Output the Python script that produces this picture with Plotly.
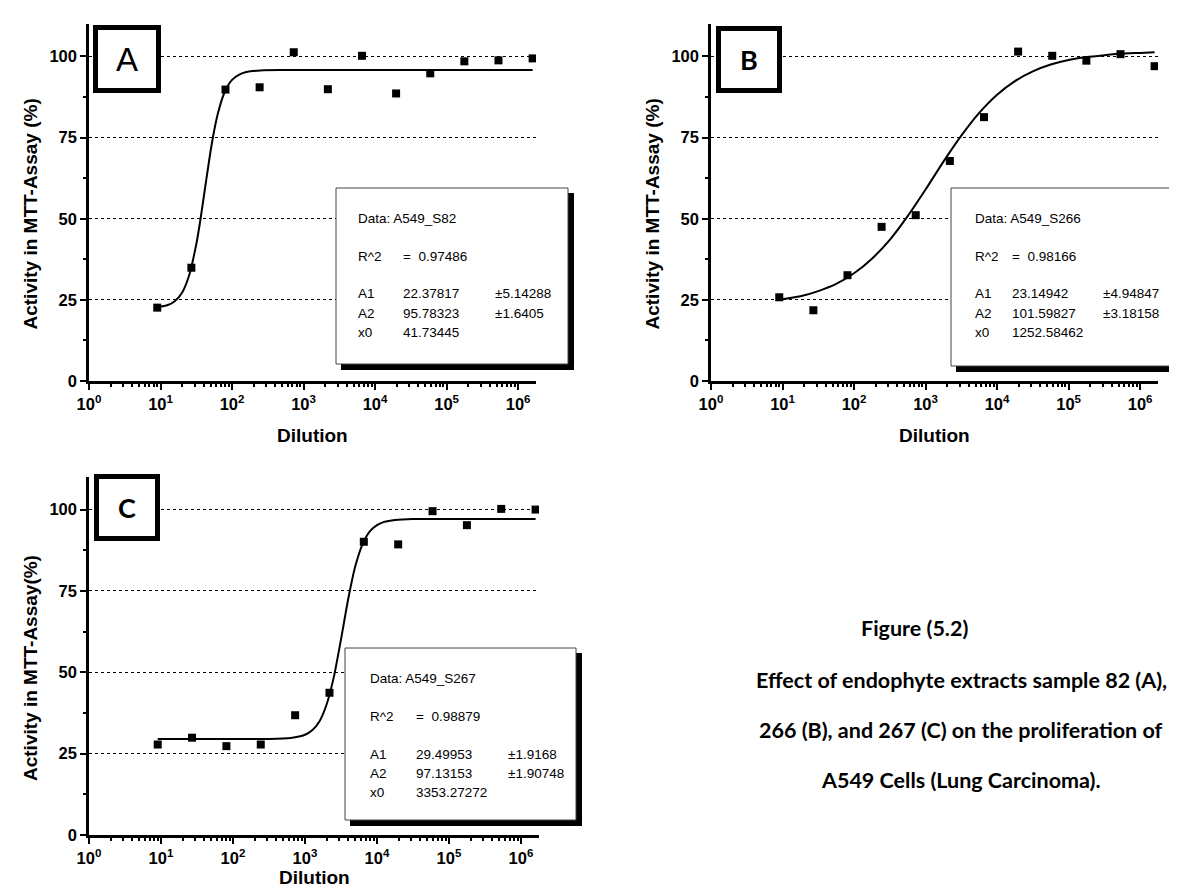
import plotly.graph_objects as go

W, H = 1177, 888

# ---------------- data ----------------
dilution = [9, 27, 81, 243, 729, 2187, 6561, 19683, 59049, 177147, 531441, 1594323]

activity_A = [22.6, 34.9, 89.8, 90.5, 101.3, 89.9, 100.2, 88.6, 94.8, 98.5, 98.8, 99.4]
activity_B = [25.8, 21.8, 32.6, 47.5, 51.1, 67.8, 81.3, 101.5, 100.2, 98.7, 100.7, 97.0]
activity_C = [27.8, 29.9, 27.3, 27.8, 36.8, 43.7, 90.1, 89.3, 99.5, 95.2, 100.2, 100.0]

# fitted curves
fit_x_A = [9, 12.6, 15.8, 20, 25.1, 31.6, 35.5, 39.8, 44.7, 50.1, 56.2, 63.1, 79.4, 100, 126, 158, 251, 501, 1000, 10000, 100000, 1594323]
fit_y_A = [22.7, 23.4, 24.6, 27.2, 32.5, 42.1, 48.6, 56.0, 63.6, 70.8, 77.1, 82.3, 89.2, 92.8, 94.4, 95.2, 95.7, 95.8, 95.8, 95.8, 95.8, 95.8]

fit_x_B = [9, 17.8, 31.6, 56.2, 100, 178, 316, 562, 1000, 1778, 3162, 5623, 10000, 17783, 31623, 56234, 100000, 177828, 316228, 562341, 1000000, 1594323]
fit_y_B = [25.0, 26.1, 27.7, 29.9, 33.2, 37.7, 43.5, 50.8, 59.0, 67.6, 75.6, 82.6, 88.2, 92.4, 95.4, 97.5, 98.9, 99.8, 100.4, 100.9, 101.1, 101.3]

fit_x_C = [9, 100, 316, 631, 1000, 1259, 1585, 1995, 2512, 3162, 3981, 5012, 6310, 7943, 10000, 12589, 17783, 31623, 100000, 1594323]
fit_y_C = [29.5, 29.5, 29.5, 29.8, 30.8, 32.2, 34.9, 40.1, 48.5, 60.1, 72.5, 82.7, 89.4, 93.3, 95.2, 96.2, 96.8, 97.1, 97.1, 97.1]

x_tickvals = [1, 10, 100, 1000, 10000, 100000, 1000000]
x_ticktext = ["10<sup>0</sup>", "10<sup>1</sup>", "10<sup>2</sup>", "10<sup>3</sup>",
              "10<sup>4</sup>", "10<sup>5</sup>", "10<sup>6</sup>"]
y_tickvals = [0, 25, 50, 75, 100]
y_ticktext = ["0", "25", "50", "75", "100"]

stats_A = ["Data: A549_S82", "0.97486", ("22.37817", "±5.14288"), ("95.78323", "±1.6405"), "41.73445"]
stats_B = ["Data: A549_S266", "0.98166", ("23.14942", "±4.94847"), ("101.59827", "±3.18158"), "1252.58462"]
stats_C = ["Data: A549_S267", "0.98879", ("29.49953", "±1.9168"), ("97.13153", "±1.90748"), "3353.27272"]

caption = ["Figure (5.2)",
           "Effect of endophyte extracts sample 82 (A),",
           "266 (B), and 267 (C) on the proliferation of",
           "A549 Cells (Lung Carcinoma)."]

# ---------------- helpers ----------------
def px(x):
    return x / W

def py(y):
    return 1 - y / H

fig = go.Figure()

panels = [
    dict(ax="", letter="A", lfont=dict(family="Liberation Sans, Arial", size=33, color="black"),
         y=activity_A, fx=fit_x_A, fy=fit_y_A, box=(81, 528, 16, 373), xt=428,
         lbox=(85, 153, 17, 85), sbox=(328, 180, 560, 356), cols=(348, 393, 485),
         stats=stats_A, ylabel="Activity in MTT-Assay (%)"),
    dict(ax="2", letter="B", lfont=dict(family="Lato", size=27, color="black", weight="bold"),
         y=activity_B, fx=fit_x_B, fy=fit_y_B, box=(703, 1150, 16, 373), xt=428,
         lbox=(708, 774, 18, 85), sbox=(943, 180, 1200, 358), cols=(965, 1002, 1093),
         stats=stats_B, ylabel="Activity in MTT-Assay (%)"),
    dict(ax="3", letter="C", lfont=dict(family="Lato", size=27, color="black", weight="bold"),
         y=activity_C, fx=fit_x_C, fy=fit_y_C, box=(81, 531, 469, 827), xt=869,
         lbox=(86, 152, 466, 533), sbox=(337, 640, 568, 812), cols=(360, 406, 498),
         stats=stats_C, ylabel="Activity in MTT-Assay(%)"),
]

tickfont = dict(family="Liberation Sans, Arial", size=16.5, color="black", weight="bold")
titlefont = dict(family="Liberation Sans, Arial", size=19, color="black", weight="bold")
shapes = []
annotations = []

for p in panels:
    xa = "x" + p["ax"]
    ya = "y" + p["ax"]
    fig.add_trace(go.Scatter(x=p["fx"], y=p["fy"], mode="lines",
                             line=dict(color="black", width=2, shape="spline", smoothing=0.6),
                             xaxis=xa, yaxis=ya, showlegend=False, hoverinfo="skip"))
    fig.add_trace(go.Scatter(x=dilution, y=p["y"], mode="markers",
                             marker=dict(symbol="square", size=8, color="black"),
                             xaxis=xa, yaxis=ya, showlegend=False))
    l, r, t, b = p["box"]
    xkey = "xaxis" + p["ax"]
    ykey = "yaxis" + p["ax"]
    fig.layout[xkey] = dict(
        domain=[px(l), px(r)], anchor=ya, type="log", range=[0, 6.25], automargin=False,
        showline=True, linecolor="black", linewidth=2.5, mirror=False,
        ticks="outside", ticklen=6, tickwidth=2, tickcolor="black",
        tickmode="array", tickvals=x_tickvals, ticktext=x_ticktext,
        tickfont=tickfont, showgrid=False, zeroline=False,
        minor=dict(ticks="outside", ticklen=3.5, tickwidth=1.5, tickcolor="black", dtick="D1", showgrid=False),
    )
    fig.layout[ykey] = dict(
        domain=[py(b), py(t)], anchor=xa, range=[0, 110], automargin=False,
        showline=True, linecolor="black", linewidth=2.5,
        ticks="outside", ticklen=6, tickwidth=2, tickcolor="black",
        tickmode="array", tickvals=y_tickvals, ticktext=y_ticktext,
        tickfont=tickfont, showgrid=True, gridcolor="black", gridwidth=1, griddash="dot",
        zeroline=False,
        minor=dict(ticks="outside", ticklen=3.5, tickwidth=1.5, tickcolor="black", tick0=12.5, dtick=25, showgrid=False),
    )
    # axis titles
    annotations.append(dict(x=px((l + r) / 2), y=py(p["xt"]), xref="paper", yref="paper",
                            text="Dilution", showarrow=False, xanchor="center", yanchor="middle",
                            font=titlefont))
    annotations.append(dict(x=px(l - 59), y=py((t + b) / 2 + 12), xref="paper", yref="paper",
                            text=p["ylabel"], textangle=-90, showarrow=False, xanchor="center", yanchor="middle",
                            font=titlefont))
    # letter box
    bl, br, bt, bb = p["lbox"]
    shapes.append(dict(type="rect", xref="paper", yref="paper", layer="above",
                       x0=px(bl + 2.5), x1=px(br - 2.5), y0=py(bb - 2.5), y1=py(bt + 2.5),
                       line=dict(color="black", width=5), fillcolor="white"))
    annotations.append(dict(x=px((bl + br) / 2), y=py((bt + bb) / 2), xref="paper", yref="paper",
                            text=p["letter"], showarrow=False, xanchor="center", yanchor="middle",
                            font=p["lfont"]))
    # stats box with shadow
    sx0, sy0, sx1, sy1 = p["sbox"]
    shapes.append(dict(type="rect", xref="paper", yref="paper", layer="above",
                       x0=px(sx0 + 5), x1=px(sx1 + 6), y0=py(sy1 + 6), y1=py(sy0 + 5),
                       line=dict(width=0), fillcolor="black"))
    shapes.append(dict(type="rect", xref="paper", yref="paper", layer="above",
                       x0=px(sx0), x1=px(sx1), y0=py(sy1), y1=py(sy0),
                       line=dict(color="#444444", width=1), fillcolor="white"))
    c0, c1, c2 = p["cols"]
    st = p["stats"]
    rows = [30, 68, 106, 125, 144]
    sfont = dict(family="Liberation Sans, Arial", size=13.5, color="black")

    def txt(x, dy, s):
        annotations.append(dict(x=px(x), y=py(sy0 + dy), xref="paper", yref="paper", text=s,
                                showarrow=False, xanchor="left", yanchor="middle", font=sfont))
    txt(c0, rows[0], st[0])
    txt(c0, rows[1], "R^2")
    txt(c1, rows[1], "=\u00a0\u00a0" + st[1])
    txt(c0, rows[2], "A1")
    txt(c1, rows[2], st[2][0])
    txt(c2, rows[2], st[2][1])
    txt(c0, rows[3], "A2")
    txt(c1, rows[3], st[3][0])
    txt(c2, rows[3], st[3][1])
    txt(c0, rows[4], "x0")
    txt(c1, rows[4], st[4])

# caption
cap_pos = [(906, 620), (953, 672), (953, 722), (953, 772)]
for s, (cx, cy) in zip(caption, cap_pos):
    annotations.append(dict(x=px(cx), y=py(cy), xref="paper", yref="paper", text=s,
                            showarrow=False, xanchor="center", yanchor="middle",
                            font=dict(family="Lato", size=21.5, color="black", weight="bold")))

fig.update_layout(width=W, height=H, margin=dict(l=0, r=0, t=0, b=0),
                  paper_bgcolor="white", plot_bgcolor="white",
                  shapes=shapes, annotations=annotations, showlegend=False)

fig.write_html("out.html")
